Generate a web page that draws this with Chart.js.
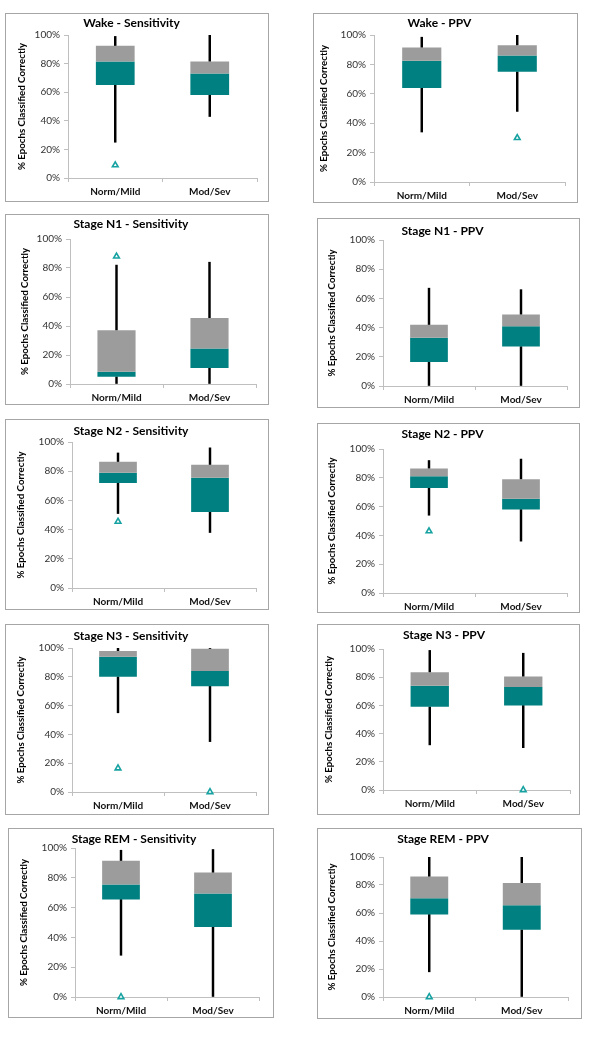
<!DOCTYPE html>
<html>
<head>
<meta charset="utf-8">
<script src="https://cdn.jsdelivr.net/npm/chart.js@4/dist/chart.umd.min.js"></script>
<style>
    body { margin: 0; background: #fff; width: 600px; height: 1041px; position: relative; overflow: hidden; }
    .panel { position: absolute; border: 1px solid #a6a6a6; box-sizing: border-box; background: #fff; }
    .panel canvas { display: block; }
</style>
</head>
<body>
<script>
// categories and panel titles
const categories = [`Norm/Mild`, `Mod/Sev`]
const titles = [
    `Wake - Sensitivity`, `Wake - PPV`,
    `Stage N1 - Sensitivity`, `Stage N1 - PPV`,
    `Stage N2 - Sensitivity`, `Stage N2 - PPV`,
    `Stage N3 - Sensitivity`, `Stage N3 - PPV`,
    `Stage REM - Sensitivity`, `Stage REM - PPV`
]
const y_ticks = [0, 20, 40, 60, 80, 100]

// box plot values (%), one pair [Norm/Mild, Mod/Sev] per panel
const whisker_min = [[25, 43], [34, 48], [0, 0], [0, 0], [51, 38], [54, 36], [55, 35], [32, 30], [28, 0], [18, 0]]
const q1 = [[65, 58], [64, 75], [5, 11], [16.5, 27], [72, 52], [73, 58], [80, 73.5], [59, 60], [65.5, 47], [59, 48]]
const median = [[81.5, 73], [82.5, 86], [8.5, 24.5], [33, 41], [79, 75.5], [81, 65.5], [94, 84], [74, 73], [75.5, 69.5], [70.5, 65.5]]
const q3 = [[92.5, 81.5], [91.5, 93], [37, 45.5], [42, 49], [86.5, 84.5], [86.5, 79], [98, 99.5], [83.5, 80.5], [91.5, 83.5], [86, 81.5]]
const whisker_max = [[99, 100], [98.5, 100], [82, 84], [67, 66], [92.5, 96], [92, 93], [100, 100], [99, 97], [98.5, 99], [100, 100]]
const outliers = [[9, null], [null, 30], [88, null], [null, null], [45.5, null], [43, null], [16.5, 0], [null, 0], [0, null], [0, null]]

// panel frame [left, top, right, bottom], plot area [left, top, right, bottom], title centre y, axis title centre x
const layout = [
    {frame: [5, 13, 269, 202], plot: [68, 35, 257, 178], title_y: 22.7, ytitle_x: 21.7},
    {frame: [313, 13, 578, 203], plot: [374, 35, 565, 182], title_y: 22.7, ytitle_x: 324},
    {frame: [5, 214, 269, 405], plot: [70, 239, 256, 384], title_y: 224.3, ytitle_x: 25},
    {frame: [317, 218, 580, 408], plot: [383, 240, 567, 386], title_y: 231, ytitle_x: 331.7},
    {frame: [5, 419, 269, 610], plot: [72, 442, 256, 588], title_y: 430.7, ytitle_x: 20.7},
    {frame: [317, 423, 580, 613], plot: [383, 449, 567, 593], title_y: 434, ytitle_x: 331.7},
    {frame: [5, 624, 269, 815], plot: [72, 648, 256, 792], title_y: 635.7, ytitle_x: 20.7},
    {frame: [317, 624, 580, 815], plot: [383, 649, 570, 790], title_y: 635, ytitle_x: 329.3},
    {frame: [8, 828, 274, 1018], plot: [75, 848, 259, 997], title_y: 839, ytitle_x: 24},
    {frame: [317, 828, 582, 1019], plot: [383, 857, 568, 997], title_y: 839.3, ytitle_x: 331.7}
]

const teal = `#008080`
const grey = `#9c9c9c`
const axis_grey = `#bfbfbf`
const font_family = `Lato, "Open Sans", sans-serif`

Chart.defaults.font.family = font_family
Chart.defaults.animation = false

function draw_panel(index) {
    const box = layout[index]
    const [fl, ft, fr, fb] = box.frame
    const [pl, pt, pr, pb] = box.plot

    const div = document.createElement(`div`)
    div.className = `panel`
    div.style.left = fl + `px`
    div.style.top = ft + `px`
    div.style.width = (fr - fl) + `px`
    div.style.height = (fb - ft) + `px`
    const canvas = document.createElement(`canvas`)
    canvas.width = fr - fl - 2
    canvas.height = fb - ft - 2
    div.appendChild(canvas)
    document.body.appendChild(div)

    // canvas origin is inside the 1px border
    const ox = fl + 1
    const oy = ft + 1
    const title_size = 12
    const title_line = title_size * 1.2
    const title_pad_top = box.title_y - oy - title_line / 2
    const title_pad_bottom = (pt - oy) - title_line - title_pad_top
    const ytitle_size = 9.7
    const ytitle_pad = box.ytitle_x - ox - ytitle_size * 1.2 / 2

    const whisker = {
        backgroundColor: `#000`,
        barThickness: 1.8,
        grouped: false,
        order: 3
    }
    const body = {
        barPercentage: 0.41,
        categoryPercentage: 1,
        grouped: false
    }

    new Chart(canvas, {
        type: `bar`,
        data: {
            labels: categories,
            datasets: [{
                ...whisker,
                label: `whisker low`,
                data: categories.map((c, i) => [whisker_min[index][i], q1[index][i]])
            }, {
                ...whisker,
                label: `whisker high`,
                data: categories.map((c, i) => [q3[index][i], whisker_max[index][i]])
            }, {
                ...body,
                label: `lower`,
                data: categories.map((c, i) => [q1[index][i], median[index][i]]),
                backgroundColor: teal,
                order: 2
            }, {
                ...body,
                label: `upper`,
                data: categories.map((c, i) => [median[index][i], q3[index][i]]),
                backgroundColor: grey,
                order: 1
            }, {
                type: `line`,
                label: `outlier`,
                data: outliers[index],
                showLine: false,
                pointStyle: `triangle`,
                pointRadius: 3.3,
                pointBorderWidth: 1.6,
                pointBorderColor: `#17a2a2`,
                pointBackgroundColor: `#fff`,
                clip: false,
                order: 0
            }]
        },
        options: {
            responsive: false,
            animation: false,
            events: [],
            layout: {padding: {left: 0, top: 0, right: (fr - 1) - pr, bottom: 0}},
            plugins: {
                legend: {display: false},
                tooltip: {enabled: false},
                title: {
                    display: true,
                    text: titles[index],
                    color: `#000`,
                    font: {size: title_size, weight: `bold`, family: font_family},
                    padding: {top: title_pad_top, bottom: title_pad_bottom}
                }
            },
            scales: {
                x: {
                    type: `category`,
                    offset: true,
                    grid: {display: true, offset: true, drawOnChartArea: false, tickLength: 4, color: axis_grey},
                    border: {color: axis_grey},
                    ticks: {color: `#111`, font: {size: 10, weight: `bold`}, padding: 4},
                    afterFit: scale => { scale.height = (fb - 1) - pb }
                },
                y: {
                    min: 0,
                    max: 100,
                    afterBuildTicks: scale => { scale.ticks = y_ticks.map(v => ({value: v})) },
                    ticks: {color: `#333`, font: {size: 10}, padding: 4, callback: v => v + `%`},
                    grid: {drawOnChartArea: false, tickLength: 4, color: axis_grey},
                    border: {color: axis_grey},
                    title: {
                        display: true,
                        text: `% Epochs Classified Correctly`,
                        color: `#000`,
                        font: {size: ytitle_size, weight: `bold`},
                        padding: {top: ytitle_pad, bottom: 0}
                    },
                    afterFit: scale => { scale.width = pl - ox }
                }
            }
        }
    })
}

for (let i = 0; i < titles.length; i++) draw_panel(i)
</script>
</body>
</html>
